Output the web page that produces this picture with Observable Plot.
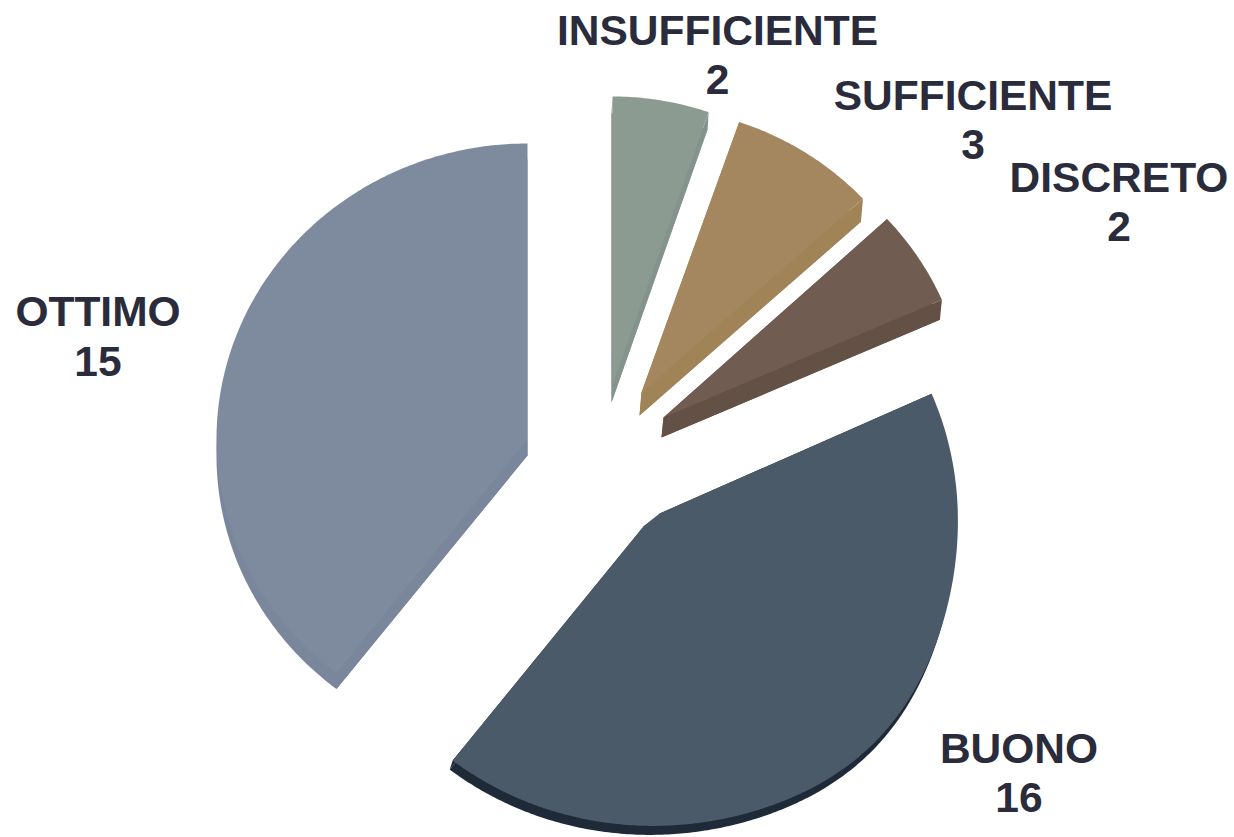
<!DOCTYPE html>
<html><head><meta charset="utf-8">
<style>html,body{margin:0;padding:0;background:#fff}svg{display:block}</style>
<script src="https://cdn.jsdelivr.net/npm/d3@7"></script>
<script src="https://cdn.jsdelivr.net/npm/@observablehq/plot@0.6"></script>
</head><body><div id="chart"></div>
<script>
// data
const categories = ["INSUFFICIENTE", "SUFFICIENTE", "DISCRETO", "BUONO", "OTTIMO"];
const counts = [2, 3, 2, 16, 15];

// styling and exploded-pie layout
const topColors = ["#8c9b91", "#a5875f", "#715c52", "#4b5a68", "#7e8a9e"];
const sideColors = ["#84938e", "#a08458", "#645145", "#1f2a38", "#7a869c"];
const centers = [[612, 385], [641, 392], [663, 417], [650, 517], [527, 439]];
const radiiX = [296, 301, 304, 307, 311];
const radiiXLeft = [296, 301, 304, 322, 311];
const radiiY = [289, 286, 293, 308, 296];
const depthsY = [17, 23, 20, 9, 16];
const depthsX = [-1, -2, -2, -3, 0];
const labelAt = [[717, 53], [972.5, 118], [1118.5, 200], [1018.5, 771], [97.5, 334.5]];
const bulge = {slice: 3, amp: 10, at: 135, width: 25};

const arcs = d3.pie().sort(null).startAngle(0).endAngle(2 * Math.PI)(counts);

function outline(i, dx, dy) {
  const {startAngle: a0, endAngle: a1} = arcs[i];
  const [cx, cy] = centers[i];
  const pts = [];
  const n = Math.ceil((a1 - a0) / 0.01);
  if (i === 3) { // rounded inner corner of the large slice
    for (const a of [a1, a0]) pts.push({x: cx + dx + 10 * Math.sin(a), y: cy + dy - 10 * Math.cos(a)});
  } else {
    pts.push({x: cx + dx, y: cy + dy});
  }
  for (let k = 0; k <= n; k++) {
    const a = a0 + (a1 - a0) * k / n;
    const s = Math.sin(a), c = Math.cos(a);
    const deg = a * 180 / Math.PI;
    const extra = i === bulge.slice ? bulge.amp * Math.exp(-(((deg - bulge.at) / bulge.width) ** 2)) : 0;
    const rx = (s < 0 ? radiiXLeft[i] : radiiX[i]) + extra;
    const ry = radiiY[i] + extra;
    pts.push({x: cx + dx + rx * s, y: cy + dy - ry * c});
  }
  return pts;
}

const marks = [];
categories.forEach((name, i) => {
  const top = outline(i, 0, 0);
  const low = outline(i, depthsX[i], depthsY[i]);
  const fillOpts = {x: "x", y: "y", curve: "linear-closed", fill: sideColors[i], stroke: "none"};
  marks.push(Plot.line(low, fillOpts));
  // extruded walls along both straight edges
  const last = top.length - 1;
  marks.push(Plot.line([top[0], top[last], low[last], low[0]], fillOpts));
  const first = i === 3 ? 2 : 1;
  const inner = i === 3 ? 1 : 0;
  marks.push(Plot.line([top[inner], top[first], low[first], low[inner]], fillOpts));
  marks.push(Plot.line(top, {x: "x", y: "y", curve: "linear-closed", fill: topColors[i], stroke: "none"}));
});

marks.push(Plot.text(categories.map((name, i) => ({text: name + "\n" + counts[i], x: labelAt[i][0], y: labelAt[i][1]})), {
  x: "x", y: "y", text: "text", fontSize: 42.5, fontWeight: "bold",
  fontFamily: "Liberation Sans, Arial, sans-serif", fill: "#2a2b3b", lineHeight: 1.176, textAnchor: "middle"
}));

document.getElementById("chart").append(Plot.plot({
  width: 1234, height: 837, margin: 0,
  x: {domain: [0, 1234], axis: null},
  y: {domain: [837, 0], axis: null},
  marks
}));
</script></body></html>
